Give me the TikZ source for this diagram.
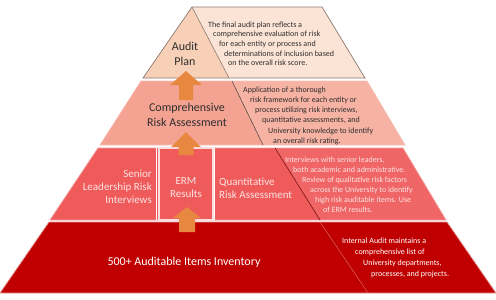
\documentclass[tikz,border=0pt]{standalone}
\usepackage{fontspec}
\setmainfont{Carlito}
\definecolor{tAleft}{HTML}{F8D0B8}
\definecolor{tAright}{HTML}{FBE4D5}
\definecolor{tAline}{HTML}{8C7A70}
\definecolor{tBleft}{HTML}{F4A292}
\definecolor{tBright}{HTML}{F6B2A3}
\definecolor{tCfill}{HTML}{EF5B5B}
\definecolor{tCright}{HTML}{F06666}
\definecolor{tDfill}{HTML}{C00000}
\definecolor{arrorange}{HTML}{E8873F}
\definecolor{darktext}{HTML}{2E2E2E}
\definecolor{pinktext}{HTML}{FCE3E3}
\begin{document}
\begin{tikzpicture}[x=1pt,y=-1pt,
  sm/.style={font=\fontsize{8}{9}\selectfont, inner sep=0pt, anchor=west},
  big/.style={font=\fontsize{12}{14.5}\selectfont, align=center, inner sep=0pt},
  mid/.style={font=\fontsize{11}{13}\selectfont, inner sep=0pt},
  arr/.style={fill=arrorange, draw=none},
  tierline/.style={draw=#1, line width=0.7pt}
]
\useasboundingbox (0,0) rectangle (496,300);
\fill[white] (0,0) rectangle (496,300);

% Tier 1
\coordinate (a1) at (192,7);
\coordinate (a2) at (322,7);
\coordinate (a3) at (365,78);
\coordinate (a4) at (143,78);
\coordinate (ad) at (229,78);
\fill[tAright] (a1) -- (a2) -- (a3) -- (ad) -- cycle;
\fill[tAleft] (a1) -- (ad) -- (a4) -- cycle;
\draw[tierline=tAline] (a1) -- (a2) -- (a3) -- (a4) -- cycle;
\draw[tAline, line width=0.6pt] (a1) -- (ad);

% Tier 2
\coordinate (b1) at (141,81);
\coordinate (b2) at (367,81);
\coordinate (b3) at (405,145);
\coordinate (b4) at (100,145);
\coordinate (bt) at (232,81);
\coordinate (bb) at (263,145);
\fill[tBright] (bt) -- (b2) -- (b3) -- (bb) -- cycle;
\fill[tBleft] (b1) -- (bt) -- (bb) -- (b4) -- cycle;
\draw[tierline=tBleft!70!white] (b1) -- (b2) -- (b3) -- (b4) -- cycle;
\draw[black!75, line width=0.5pt] (bt) -- (bb);

% Tier 3
\coordinate (c1) at (98,148);
\coordinate (c2) at (403,148);
\coordinate (c3) at (446,220);
\coordinate (c4) at (50,220);
\coordinate (ct) at (275,148);
\coordinate (cb) at (320,220);
\fill[tCright] (ct) -- (c2) -- (c3) -- (cb) -- cycle;
\fill[tCfill] (c1) -- (ct) -- (cb) -- (c4) -- cycle;
\draw[tierline=tCfill!60!white] (c1) -- (c2) -- (c3) -- (c4) -- cycle;
\draw[black!60!red, line width=0.5pt] (ct) -- (cb);
\coordinate (s1) at (156.5,148);
\coordinate (s2) at (156.5,220);
\coordinate (s3) at (214,148);
\coordinate (s4) at (214,220);
\draw[white, line width=1.6pt] (s1) -- (s2);
\draw[white, line width=1.6pt] (s3) -- (s4);
\node[draw=white!80!tCfill, line width=1.5pt, fill=tCfill, minimum width=54pt, minimum height=72pt, inner sep=0pt] (erm) at (186,184) {};

% Tier 4
\coordinate (d1) at (49,222);
\coordinate (d2) at (447,222);
\coordinate (d3) at (496,293);
\coordinate (d4) at (0,293);
\coordinate (dt) at (320,222);
\coordinate (db) at (368,293);
\fill[tDfill] (d1) -- (d2) -- (d3) -- (d4) -- cycle;
\draw[tierline=tDfill!40!white] (d1) -- (d2) -- (d3) -- (d4) -- cycle;
\draw[tDfill!60!white, line width=0.5pt] (dt) -- (db);

% Arrows
\fill[arr] (179,100) -- (179,85) -- (170,85) -- (186,71) -- (202,85) -- (193,85) -- (193,100) -- cycle;
\fill[arr] (178.5,155) -- (178.5,147) -- (171,147) -- (186,132) -- (201,147) -- (193.5,147) -- (193.5,155) -- cycle;
\fill[arr] (179,232) -- (179,218) -- (173,218) -- (187,207) -- (201,218) -- (195,218) -- (195,232) -- cycle;

% Tier 1 text
\node[big, text=darktext] (audit) at (185,54) {Audit\\Plan};
\node[sm, text=darktext] (p1a) at (208,25) {The final audit plan reflects a};
\node[sm, text=darktext] (p1b) at (213,34.5) {comprehensive evaluation of risk};
\node[sm, text=darktext] (p1c) at (219,44) {for each entity or process and};
\node[sm, text=darktext] (p1d) at (224,53.5) {determinations of inclusion based};
\node[sm, text=darktext] (p1e) at (228,63) {on the overall risk score.};

% Tier 2 text
\node[big, text=darktext] (comp) at (187,115) {Comprehensive\\Risk Assessment};
\node[sm, text=darktext] (p2a) at (243,90) {Application of a thorough};
\node[sm, text=darktext] (p2b) at (250,100) {risk framework for each entity or};
\node[sm, text=darktext] (p2c) at (255,110.3) {process utilizing risk interviews,};
\node[sm, text=darktext] (p2d) at (262,120.6) {quantitative assessments, and};
\node[sm, text=darktext] (p2e) at (268,131) {University knowledge to identify};
\node[sm, text=darktext] (p2f) at (273,141) {an overall risk rating.};

% Tier 3 text
\node[mid, text=pinktext, align=right, anchor=east] (senior) at (152,187) {Senior\\Leadership Risk\\Interviews};
\node[mid, text=pinktext, align=center] (ermt) at (186,188) {ERM\\Results};
\node[mid, text=pinktext, align=left, anchor=west] (quant) at (219,188) {Quantitative\\Risk Assessment};
\node[sm, text=pinktext] (p3a) at (285,160) {Interviews with senior leaders,};
\node[sm, text=pinktext] (p3b) at (293,169.8) {both academic and administrative.};
\node[sm, text=pinktext] (p3c) at (302,180) {Review of qualitative risk factors};
\node[sm, text=pinktext] (p3d) at (310,190) {across the University to identify};
\node[sm, text=pinktext] (p3e) at (315,200) {high risk auditable items. Use};
\node[sm, text=pinktext] (p3f) at (323,209.5) {of ERM results.};

% Tier 4 text
\node[big, text=white] (inv) at (184,262) {500+ Auditable Items Inventory};
\node[sm, text=white] (p4a) at (342,241) {Internal Audit maintains a};
\node[sm, text=white] (p4b) at (355,252) {comprehensive list of};
\node[sm, text=white] (p4c) at (363,263) {University departments,};
\node[sm, text=white] (p4d) at (371,274) {processes, and projects.};
\end{tikzpicture}
\end{document}
